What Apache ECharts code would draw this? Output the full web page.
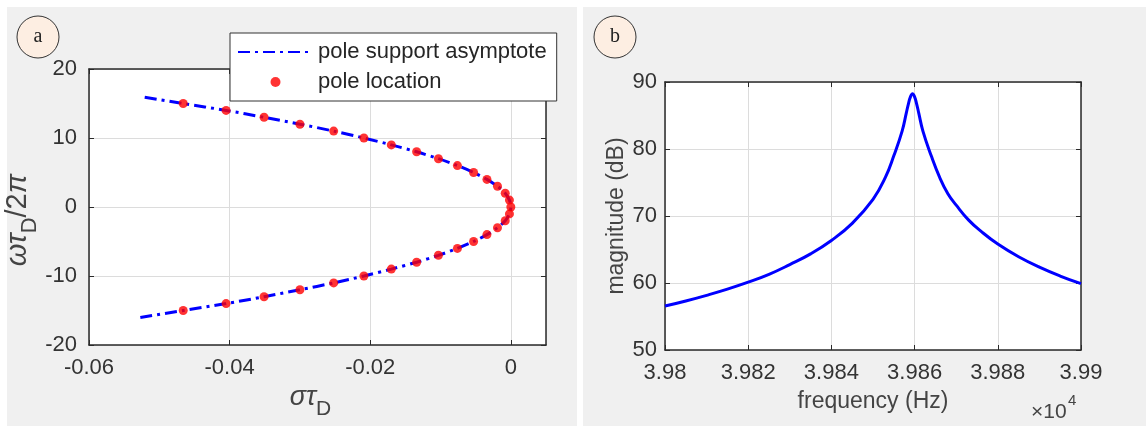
<!DOCTYPE html>
<html><head><meta charset="utf-8">
<script src="https://cdn.jsdelivr.net/npm/echarts@6/dist/echarts.min.js"></script>
<style>html,body{margin:0;padding:0;background:#fff}#c{width:1146px;height:426px}</style>
</head><body><div id="c"></div>
<script>
// ---- Panel (a): pole locations and support asymptote ----
const asymY = [-16,-15,-14,-13,-12,-11,-10,-9,-8,-7,-6,-5,-4,-3,-2,-1,0,1,2,3,4,5,6,7,8,9,10,11,12,13,14,15,16];
const asymX = [-0.0527,-0.0466,-0.0405,-0.0351,-0.0300,-0.0252,-0.0209,-0.0170,-0.0134,-0.0103,-0.0076,-0.0053,-0.0034,-0.0019,-0.0008,-0.0002,0,
               -0.0002,-0.0008,-0.0019,-0.0034,-0.0053,-0.0076,-0.0103,-0.0134,-0.0170,-0.0209,-0.0252,-0.0300,-0.0351,-0.0405,-0.0466,-0.0527];
const poleY = [-15,-14,-13,-12,-11,-10,-9,-8,-7,-6,-5,-4,-3,-2,-1,0,1,2,3,4,5,6,7,8,9,10,11,12,13,14,15];
const poleX = [-0.0466,-0.0405,-0.0351,-0.0300,-0.0252,-0.0209,-0.0170,-0.0134,-0.0103,-0.0076,-0.0053,-0.0034,-0.0019,-0.0008,-0.0002,0,
               -0.0002,-0.0008,-0.0019,-0.0034,-0.0053,-0.0076,-0.0103,-0.0134,-0.0170,-0.0209,-0.0252,-0.0300,-0.0351,-0.0405,-0.0466];
const axisA = {xMin:-0.06, xMax:0.005, xStep:0.02, yMin:-20, yMax:20, yStep:10};

// ---- Panel (b): magnitude response ----
const freq = [3.9800,3.9805,3.9810,3.9815,3.9820,3.9825,3.9830,3.9835,3.9840,3.9845,3.9850,3.9853,3.9855,3.9857,3.9858,3.98585,3.9859,3.98595,
              3.9860,3.98605,3.9861,3.9862,3.9864,3.9866,3.9868,3.9870,3.9873,3.9876,3.9880,3.9885,3.9890,3.9895,3.9900];
const mag  = [56.56,57.32,58.16,59.08,60.12,61.29,62.75,64.35,66.35,68.9,72.49,75.79,78.98,82.67,85.36,86.71,87.78,88.25,
              87.78,86.71,85.36,82.67,78.98,75.79,73.32,71.62,69.38,67.70,65.81,63.92,62.36,61.04,59.90];
const axisB = {xMin:3.98, xMax:3.99, xStep:0.002, yMin:50, yMax:90, yStep:10};

const legendNames = ['pole support asymptote', 'pole location'];

const FONT = '"Liberation Sans", Arial, sans-serif';
const TXT = '#333';
const AX = '#2a2a2a';
const GRIDC = '#dcdcdc';

function mainAxis(gi, pos, r, lblMargin, showMax, name, nameGap, nameStyle) {
  return {
    gridIndex: gi, type: 'value', position: pos,
    min: r[0], max: r[1], interval: r[2],
    axisLine: {show: true, onZero: false, lineStyle: {color: AX, width: 1.5}},
    axisTick: {show: true, inside: true, length: 5, lineStyle: {color: AX, width: 1}},
    axisLabel: {fontSize: 22, color: TXT, fontFamily: FONT, margin: lblMargin, showMaxLabel: showMax, showMinLabel: true},
    splitLine: {show: true, lineStyle: {color: GRIDC, width: 1}},
    name: name, nameLocation: 'middle', nameGap: nameGap,
    nameTextStyle: Object.assign({fontFamily: FONT, fontSize: 23, color: '#444'}, nameStyle || {})
  };
}
function boxAxis(gi, pos, r) {
  return {
    gridIndex: gi, type: 'value', position: pos,
    min: r[0], max: r[1], interval: r[2],
    axisLine: {show: true, onZero: false, lineStyle: {color: AX, width: 1.5}},
    axisTick: {show: true, inside: true, length: 5, lineStyle: {color: AX, width: 1}},
    axisLabel: {show: false}, splitLine: {show: false}
  };
}
const richX = {
  g: {fontFamily: FONT, fontSize: 27, fontStyle: 'italic', color: '#444', lineHeight: 36, verticalAlign: 'top'},
  s: {fontFamily: FONT, fontSize: 21, color: '#444', lineHeight: 20, verticalAlign: 'bottom'}
};
const richY = {
  g: {fontFamily: FONT, fontSize: 29, fontStyle: 'italic', color: '#444', lineHeight: 38, verticalAlign: 'top'},
  n: {fontFamily: FONT, fontSize: 29, color: '#444', lineHeight: 38, verticalAlign: 'top'},
  s: {fontFamily: FONT, fontSize: 22, color: '#444', lineHeight: 20, verticalAlign: 'bottom'}
};

const chart = echarts.init(document.getElementById('c'), null, {renderer: 'canvas'});
chart.setOption({
  backgroundColor: '#f0f0f0',
  animation: false,
  grid: [
    {left: 89, top: 69, width: 457, height: 276, show: true, backgroundColor: '#fff', borderWidth: 0},
    {left: 665, top: 82, width: 416, height: 268, show: true, backgroundColor: '#fff', borderWidth: 0}
  ],
  xAxis: [
    mainAxis(0, 'bottom', [axisA.xMin, axisA.xMax, axisA.xStep], 12, false, '{g|στ}{s|D}', 28, {rich: richX, padding: [0, 14, 0, 0]}),
    boxAxis(0, 'top', [axisA.xMin, axisA.xMax, axisA.xStep]),
    mainAxis(1, 'bottom', [axisB.xMin, axisB.xMax, axisB.xStep], 12, true, 'frequency (Hz)', 40),
    boxAxis(1, 'top', [axisB.xMin, axisB.xMax, axisB.xStep])
  ],
  yAxis: [
    mainAxis(0, 'left', [axisA.yMin, axisA.yMax, axisA.yStep], 12, true, '{g|ωτ}{s|D}{n|/2}{g|π}', 35, {rich: richY, padding: [0, 26, 0, 0]}),
    boxAxis(0, 'right', [axisA.yMin, axisA.yMax, axisA.yStep]),
    mainAxis(1, 'left', [axisB.yMin, axisB.yMax, axisB.yStep], 8, true, 'magnitude (dB)', 36),
    boxAxis(1, 'right', [axisB.yMin, axisB.yMax, axisB.yStep])
  ],
  legend: {
    show: true, orient: 'vertical', left: 230, top: 33,
    padding: [8, 10, 8, 7], itemWidth: 75, itemHeight: 10, itemGap: 8,
    backgroundColor: '#fff', borderColor: '#333', borderWidth: 1, borderRadius: 0,
    textStyle: {fontSize: 22, color: '#262626', fontFamily: FONT, lineHeight: 22},
    data: [
      {name: legendNames[0], itemStyle: {opacity: 0}},
      {name: legendNames[1]}
    ]
  },
  series: [
    {
      name: legendNames[0], type: 'line', xAxisIndex: 0, yAxisIndex: 0,
      data: asymY.map((y, i) => [asymX[i], y]),
      smooth: 0.3, symbol: 'none',
      lineStyle: {color: '#0000ff', width: 3, type: [12, 5, 3, 5]},
      itemStyle: {color: '#0000ff'}, z: 2
    },
    {
      name: legendNames[1], type: 'scatter', xAxisIndex: 0, yAxisIndex: 0,
      data: poleY.map((y, i) => [poleX[i], y]),
      symbol: 'circle', symbolSize: 9,
      itemStyle: {color: '#ff0000'}, z: 3
    },
    {
      name: 'magnitude', type: 'line', xAxisIndex: 2, yAxisIndex: 2,
      data: freq.map((f, i) => [f, mag[i]]),
      smooth: 0.45, symbol: 'none',
      lineStyle: {color: '#0000ff', width: 3}
    }
  ],
  graphic: [
    {type: 'rect', shape: {x: 0, y: 0, width: 1146, height: 7}, style: {fill: '#fff'}, silent: true},
    {type: 'rect', shape: {x: 0, y: 0, width: 7, height: 426}, style: {fill: '#fff'}, silent: true},
    {type: 'rect', shape: {x: 577, y: 0, width: 6, height: 426}, style: {fill: '#fff'}, silent: true},
    {type: 'circle', shape: {cx: 38, cy: 37, r: 21}, style: {fill: '#fdeee2', stroke: '#333', lineWidth: 1}},
    {type: 'text', x: 38, y: 37, style: {text: 'a', font: '20px "Liberation Serif", serif', fill: '#222', align: 'center', verticalAlign: 'middle'}},
    {type: 'circle', shape: {cx: 615, cy: 37, r: 21}, style: {fill: '#fdeee2', stroke: '#333', lineWidth: 1}},
    {type: 'text', x: 615, y: 37, style: {text: 'b', font: '20px "Liberation Serif", serif', fill: '#222', align: 'center', verticalAlign: 'middle'}},
    {type: 'text', x: 1031, y: 412, style: {text: '×10', font: '21px "Liberation Sans", Arial, sans-serif', fill: '#444', align: 'left', verticalAlign: 'middle'}},
    {type: 'text', x: 1068, y: 401, style: {text: '4', font: '15px "Liberation Sans", Arial, sans-serif', fill: '#444', align: 'left', verticalAlign: 'middle'}}
  ]
});
</script>
</body></html>
